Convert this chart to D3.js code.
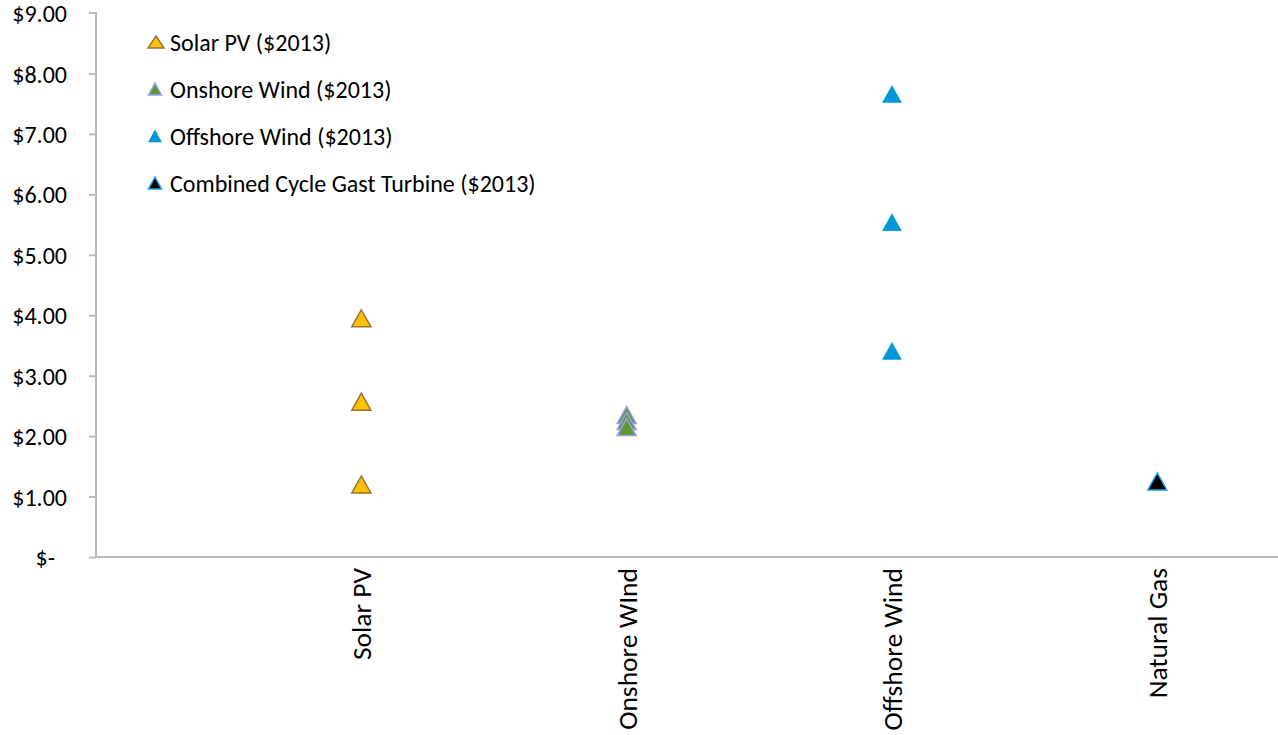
<!DOCTYPE html>
<html>
<head>
<meta charset="utf-8">
<script src="https://cdn.jsdelivr.net/npm/d3@7"></script>
<style>
  html, body { margin: 0; padding: 0; background: #fff; }
  svg { display: block; }
  text { font-family: Calibri, Carlito, Lato, sans-serif; fill: #000; }
</style>
</head>
<body>
<svg id="chart" width="1278" height="735"></svg>
<script>
// ---- data ----
const categories = ["Solar PV", "Onshore WInd", "Offshore Wind", "Natural Gas"];
const categoryIndex = [1, 2, 3, 4];
const seriesNames = ["Solar PV ($2013)", "Onshore Wind ($2013)", "Offshore Wind ($2013)", "Combined Cycle Gast Turbine ($2013)"];
const solarValues = [3.95, 2.57, 1.20];
const onshoreValues = [2.35, 2.25, 2.15];
const offshoreValues = [7.66, 5.54, 3.41];
const gasValues = [1.25];
const yTicks = [0, 1, 2, 3, 4, 5, 6, 7, 8, 9];

const seriesStyles = [
  { fill: "#ffc000", stroke: "#957436", sw: 1.5 },
  { fill: "#5a9a2a", stroke: "#9c9cff", sw: 1.5 },
  { fill: "#0096d8", stroke: "#0096d8", sw: 0.5 },
  { fill: "#000000", stroke: "#1aa0e6", sw: 1.5 }
];
const seriesValues = [solarValues, onshoreValues, offshoreValues, gasValues];

// ---- layout ----
const svg = d3.select("#chart");
const x = d3.scaleLinear().domain([0, 4.455]).range([96, 1278]);
const y = d3.scaleLinear().domain([0, 9]).range([557, 13]);

function tri(w, h) {
  return `M0,${-h/2}L${w/2},${h/2}L${-w/2},${h/2}Z`;
}

// y axis
const yAxis = d3.axisLeft(y).tickValues(yTicks).tickSize(7).tickPadding(22)
  .tickFormat(d => d === 0 ? "$-" : d3.format("$.2f")(d));
const gy = svg.append("g").attr("transform", "translate(96,0)").call(yAxis);
gy.select(".domain").attr("stroke", "#bababa").attr("stroke-width", 2)
  .attr("d", `M-7,${y(9)}H0V${y(0)}`);
gy.selectAll(".tick line").attr("stroke", "#bababa").attr("stroke-width", 2);
gy.selectAll(".tick text").attr("font-size", 24).attr("font-family", "Calibri, Carlito, Lato, sans-serif")
  .attr("fill", "#000").attr("dy", "0.36em");
gy.selectAll(".tick").filter(d => d === 0).select("text").attr("x", -41);
gy.selectAll(".tick").filter(d => d === 9).select("line").remove();

// x axis line
svg.append("line").attr("x1", x(0)).attr("x2", x(4.455)).attr("y1", y(0)).attr("y2", y(0))
  .attr("stroke", "#bababa").attr("stroke-width", 2);

// category labels
svg.append("g").selectAll("text").data(categories).join("text")
  .attr("transform", (d, i) => `translate(${x(categoryIndex[i]) + 10},568) rotate(-90)`)
  .attr("text-anchor", "end")
  .attr("font-size", 27.5)
  .text(d => d);

// points
seriesValues.forEach((vals, si) => {
  const st = seriesStyles[si];
  svg.append("g").selectAll("path").data(vals).join("path")
    .attr("transform", d => `translate(${x(categoryIndex[si])},${y(d)})`)
    .attr("d", tri(19, 17))
    .attr("fill", st.fill).attr("stroke", st.stroke).attr("stroke-width", st.sw)
    .attr("stroke-linejoin", "miter");
});

// legend
const legendY = [42, 89, 136, 183];
const leg = svg.append("g");
seriesNames.forEach((name, i) => {
  const st = seriesStyles[i];
  leg.append("path")
    .attr("transform", `translate(${i === 0 ? 156 : 155},${legendY[i]})`)
    .attr("d", i === 0 ? tri(16, 12) : tri(13, 12))
    .attr("fill", st.fill).attr("stroke", st.stroke).attr("stroke-width", st.sw);
  leg.append("text").attr("x", 170).attr("y", legendY[i]).attr("dy", "0.36em")
    .attr("font-size", 24).text(name);
});
</script>
</body>
</html>
